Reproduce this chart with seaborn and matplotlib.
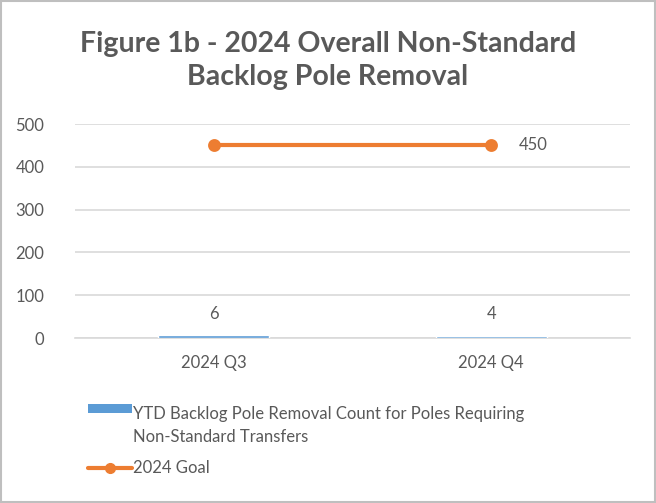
import matplotlib
matplotlib.use("Agg")
import matplotlib.pyplot as plt
import seaborn as sns
import pandas as pd
from matplotlib.patches import Patch, Rectangle
from matplotlib.lines import Line2D
from matplotlib.legend_handler import HandlerPatch

quarters = ["2024 Q3", "2024 Q4"]
ytd_counts = [6, 4]
goal = [450, 450]
bar_label = "YTD Backlog Pole Removal Count for Poles Requiring\nNon-Standard Transfers"
line_label = "2024 Goal"
title = "Figure 1b - 2024 Overall Non-Standard\nBacklog Pole Removal"
yticks = [0, 100, 200, 300, 400, 500]

BLUE = "#5B9BD5"
ORANGE = "#ED7D31"
GREY = "#595959"
GRID = "#D9D9D9"

sns.set_theme(style="white")
plt.rcParams["font.family"] = ["Lato", "DejaVu Sans"]

df = pd.DataFrame({"quarter": quarters, "count": ytd_counts, "goal": goal})

fig = plt.figure(figsize=(6.56, 5.03), dpi=100)
ax = fig.add_axes([0.1143, 0.328, 0.846, 0.4254])

sns.barplot(data=df, x="quarter", y="count", color=BLUE, width=0.4,
            saturation=1, ax=ax, zorder=3)
sns.pointplot(data=df, x="quarter", y="goal", color=ORANGE, markers="o",
              markersize=7, linewidth=3, ax=ax, zorder=4)

ax.set_ylim(0, 500)
ax.set_xlim(-0.5, 1.5)
ax.set_yticks(yticks)
ax.yaxis.grid(True, color=GRID, linewidth=1.2)
ax.set_axisbelow(True)
for s in ["top", "right", "left"]:
    ax.spines[s].set_visible(False)
ax.spines["bottom"].set_color(GRID)
ax.spines["bottom"].set_linewidth(1.2)
ax.set_xlabel("")
ax.set_ylabel("")
ax.tick_params(axis="both", length=0, labelsize=12, colors=GREY, pad=12)
ax.tick_params(axis="y", pad=22)

for i, v in enumerate(ytd_counts):
    ax.annotate(str(v), (i, v), xytext=(0, 10), textcoords="offset points",
                ha="center", va="bottom", fontsize=12, color=GREY)
ax.annotate(str(goal[-1]), (1, goal[-1]), xytext=(20, 0), textcoords="offset points",
            ha="left", va="center", fontsize=12, color=GREY)

fig.text(0.5, 0.88, title, ha="center", va="center", fontsize=20.5,
         fontweight="bold", color=GREY, linespacing=1.35)


def raised_patch(legend, orig_handle, xdescent, ydescent, width, height, fontsize):
    return Rectangle((-xdescent, -ydescent + 13), width, height)


handles = [Patch(facecolor=BLUE, edgecolor="none"),
           Line2D([0], [0], color=ORANGE, marker="o", markersize=7, linewidth=3)]
leg = fig.legend(handles, [bar_label, line_label], loc="upper left",
                 bbox_to_anchor=(0.112, 0.222), frameon=False, fontsize=12,
                 handlelength=2.6, handleheight=0.5, handletextpad=0.05,
                 labelspacing=0.9, labelcolor=GREY,
                 handler_map={Patch: HandlerPatch(patch_func=raised_patch)})
for t in leg.get_texts():
    t.set_linespacing(1.55)

fig.patches.append(Rectangle((0.002, 0.002), 0.996, 0.996, transform=fig.transFigure,
                             fill=False, edgecolor="#BFBFBF", linewidth=1.5))

fig.savefig("out.png", dpi=100)
